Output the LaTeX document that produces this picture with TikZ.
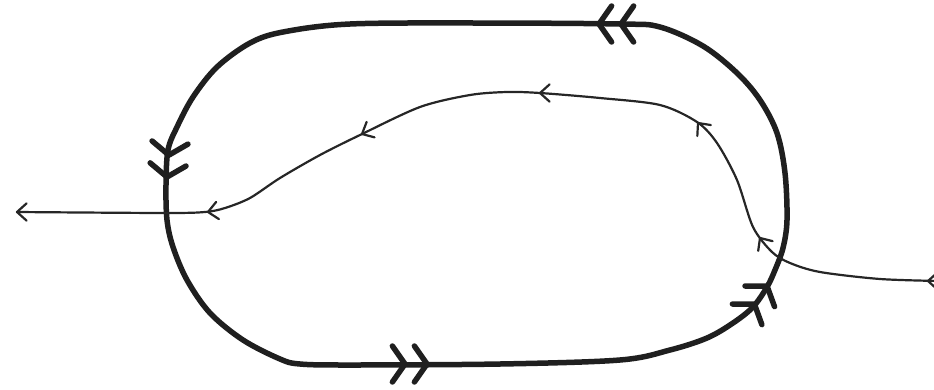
\documentclass[tikz,border=0pt]{standalone}
\usetikzlibrary{calc}
\tikzset{
  loopline/.style={line width=5.5pt, color=black!88, line cap=round, line join=round},
  pathline/.style={line width=2.2pt, color=black!85, line cap=round, line join=round},
  dchev/.pic={\draw[loopline] (-12.6,18) -- (0,0) -- (-12.6,-18)
                              (-34.6,18) -- (-22,0) -- (-34.6,-18);},
  tchev/.pic={\draw[pathline] (138:13) -- (0,0) -- (222:13);}
}
\begin{document}
\begin{tikzpicture}[x=1pt,y=-1pt]
\useasboundingbox (0,0) rectangle (934,389);
\clip (0,0) rectangle (934,389);
% outer loop
\draw[loopline] plot[smooth cycle, tension=0.55] coordinates {
 (350,24) (480,23) (620,24) (660,27) (703,46) (737,73) (760,100) (777,133)
 (785,173) (787,220) (783,248) (775,270) (767,287) (753,307) (733,323)
 (707,338) (670,350) (620,360) (500,364) (350,365) (300,364) (280,359)
 (243,340) (210,313) (187,280) (173,247) (167,220) (166,185) (168,150)
 (177,127) (193,97) (217,67) (250,43) (283,32)};
\pic[rotate=180] at (599,24) {dchev};
\pic[rotate=265] at (167,177) {dchev};
\pic[rotate=0] at (427,364) {dchev};
\pic[rotate=55] at (767,286) {dchev};
% inner path
\coordinate (start) at (940,281);
\coordinate (end) at (17,212);
\draw[pathline] plot[smooth, tension=0.5] coordinates {
 (start) (880,279) (820,272) (790,263) (772,252) (753,227) (737,180) (717,143)
 (697,122) (660,105) (600,98) (540,93) (507,92) (470,95) (420,107) (360,135)
 (320,155) (280,178) (250,198) (225,208) (205,212) (165,213) (end)};
\pic[rotate=180] at (end) {tchev};
\pic[rotate=180] at (928,281) {tchev};
\pic[rotate=124] at (760,238) {tchev};
\pic[rotate=129] at (698,123) {tchev};
\pic[rotate=180] at (540,93) {tchev};
\pic[rotate=207] at (362,134) {tchev};
\pic[rotate=189] at (208,212) {tchev};
\end{tikzpicture}
\end{document}
